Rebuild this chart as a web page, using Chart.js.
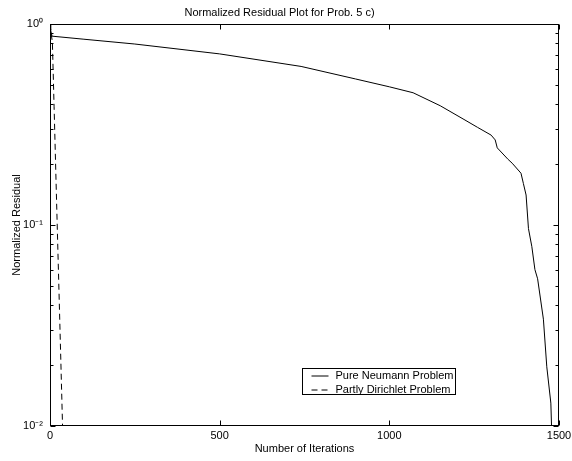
<!DOCTYPE html>
<html>
<head>
<meta charset="utf-8">
<script src="https://cdn.jsdelivr.net/npm/chart.js@4/dist/chart.umd.min.js"></script>
<style>
  body { margin: 0; background: #fff; }
  canvas { display: block; }
</style>
</head>
<body>
<canvas id="grafico" width="572" height="461"></canvas>
<script>
// Dados (iterações x resíduo normalizado)
const neumannIter = [0, 2, 6, 100, 250, 500, 740, 900, 1000, 1070, 1150, 1220, 1260, 1300, 1312, 1318,
  1350, 1362, 1388, 1395, 1403, 1410, 1420, 1429, 1437, 1454, 1464, 1476, 1478];
const neumannRes = [1.0, 0.93, 0.87, 0.84, 0.795, 0.71, 0.615, 0.533, 0.487, 0.455, 0.392, 0.335, 0.306, 0.28, 0.265, 0.242,
  0.212, 0.203, 0.181, 0.161, 0.141, 0.096, 0.078, 0.06, 0.054, 0.034, 0.0197, 0.013, 0.01];

const dirichletIter = [0, 3, 7, 12, 20, 28, 37];
const dirichletRes = [1.0, 0.9, 0.816, 0.39, 0.12, 0.0375, 0.01];

const xTicks = [0, 500, 1000, 1500];
const yTicks = [0.01, 0.1, 1];
const yTickLabels = ['10\u207B\u00B2', '10\u207B\u00B9', '10\u2070'];

const fonte = { family: "'Liberation Sans', Arial, Helvetica, sans-serif", size: 11 };

function pontos(xs, ys) {
  return xs.map((v, i) => ({ x: v, y: ys[i] }));
}

// moldura, ticks para dentro e legenda no estilo do MATLAB
const molduraPlugin = {
  id: 'moldura',
  afterDatasetsDraw(chart) {
    const { ctx, chartArea: a, scales: { x, y } } = chart;
    const L = Math.round(a.left) + 0.5, R = Math.round(a.right) - 0.5;
    const T = Math.round(a.top) + 0.5, B = Math.round(a.bottom) - 0.5;
    ctx.save();
    ctx.strokeStyle = '#000';
    ctx.lineWidth = 1;
    ctx.strokeRect(L, T, R - L, B - T);
    ctx.beginPath();
    xTicks.forEach(v => {
      const px = Math.round(x.getPixelForValue(v)) + 0.5;
      ctx.moveTo(px, B); ctx.lineTo(px, B - 5);
      ctx.moveTo(px, T); ctx.lineTo(px, T + 5);
    });
    yTicks.forEach(v => {
      const py = Math.round(y.getPixelForValue(v)) + 0.5;
      ctx.moveTo(L, py); ctx.lineTo(L + 5, py);
      ctx.moveTo(R, py); ctx.lineTo(R - 5, py);
    });
    [0.01, 0.1].forEach(d => {
      for (let k = 2; k <= 9; k++) {
        const py = Math.round(y.getPixelForValue(d * k)) + 0.5;
        ctx.moveTo(L, py); ctx.lineTo(L + 3, py);
        ctx.moveTo(R, py); ctx.lineTo(R - 3, py);
      }
    });
    ctx.stroke();

    // legenda
    const bx = Math.round(a.right) - 256.5, by = Math.round(a.bottom) - 57.5;
    const bw = 153, bh = 26;
    ctx.fillStyle = '#fff';
    ctx.fillRect(bx, by, bw, bh);
    ctx.strokeRect(bx, by, bw, bh);
    ctx.font = fonte.size + 'px ' + fonte.family;
    ctx.textBaseline = 'middle';
    ctx.fillStyle = '#000';
    chart.data.datasets.forEach((ds, i) => {
      const ly = by + 7.5 + i * 14;
      ctx.beginPath();
      ctx.setLineDash(ds.borderDash || []);
      ctx.lineWidth = ds.borderWidth;
      ctx.strokeStyle = ds.borderColor;
      ctx.moveTo(bx + 9, ly);
      ctx.lineTo(bx + 26, ly);
      ctx.stroke();
      ctx.setLineDash([]);
      ctx.fillText(ds.label, bx + 33, ly);
    });
    ctx.restore();
  }
};

new Chart(document.getElementById('grafico'), {
  type: 'line',
  data: {
    datasets: [
      {
        label: 'Pure Neumann Problem',
        data: pontos(neumannIter, neumannRes),
        borderColor: '#000',
        borderWidth: 1,
        pointRadius: 0,
        tension: 0,
        fill: false
      },
      {
        label: 'Partly Dirichlet Problem',
        data: pontos(dirichletIter, dirichletRes),
        borderColor: '#000',
        borderWidth: 1,
        borderDash: [6, 4],
        pointRadius: 0,
        tension: 0,
        fill: false
      }
    ]
  },
  options: {
    responsive: false,
    animation: false,
    layout: { padding: { left: 0, right: 13, top: 0, bottom: 0 } },
    plugins: {
      legend: { display: false },
      tooltip: { enabled: false },
      title: {
        display: true,
        text: 'Normalized Residual Plot for Prob. 5 c)',
        color: '#000',
        font: { ...fonte, weight: 'normal' },
        padding: { top: 6, bottom: 4.8 }
      }
    },
    scales: {
      x: {
        type: 'linear',
        min: 0,
        max: 1500,
        grid: { display: false, drawTicks: false },
        border: { display: false },
        afterBuildTicks: s => { s.ticks = xTicks.map(v => ({ value: v })); },
        afterFit: s => { s.height = 35; s.paddingLeft = 0; s.paddingRight = 0; },
        ticks: { color: '#000', font: fonte, padding: 3, maxRotation: 0, callback: v => String(v) },
        title: { display: true, text: 'Number of Iterations', color: '#000', font: fonte, padding: { top: 0, bottom: 5.4 } }
      },
      y: {
        type: 'logarithmic',
        min: 0.01,
        max: 1,
        grid: { display: false, drawTicks: false },
        border: { display: false },
        afterBuildTicks: s => { s.ticks = yTicks.map(v => ({ value: v })); },
        afterFit: s => { s.width = 50; s.paddingTop = 0; s.paddingBottom = 0; },
        ticks: {
          color: '#000',
          font: fonte,
          padding: 7,
          callback: (v) => yTickLabels[yTicks.indexOf(v)] || ''
        },
        title: { display: true, text: 'Normalized Residual', color: '#000', font: fonte, padding: { top: 10.4, bottom: 0 } }
      }
    }
  },
  plugins: [molduraPlugin]
});
</script>
</body>
</html>
